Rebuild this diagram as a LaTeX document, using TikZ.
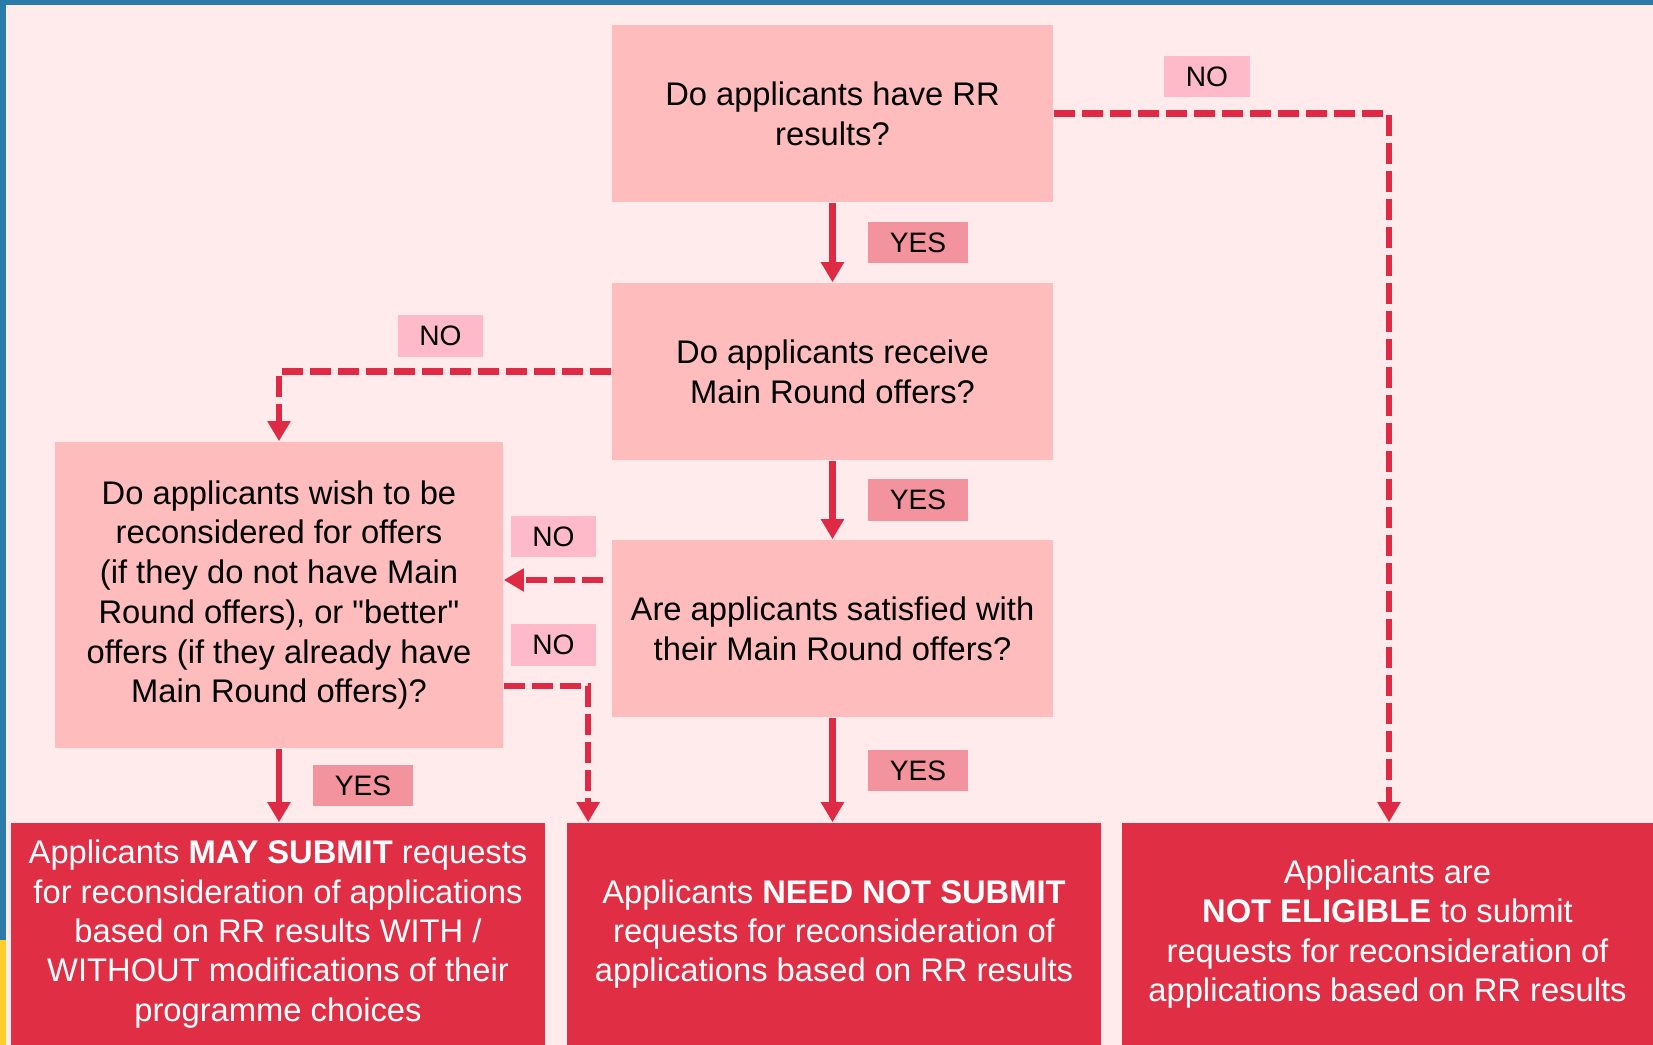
\documentclass[tikz,border=0pt]{standalone}
\usepackage{fontspec}
\setmainfont{Liberation Sans}
\usetikzlibrary{arrows.meta}
\definecolor{bgpink}{HTML}{FFEBEB}
\definecolor{boxpink}{HTML}{FFBCBC}
\definecolor{nopink}{HTML}{FFBACA}
\definecolor{yespink}{HTML}{F2939D}
\definecolor{outred}{HTML}{E02E45}
\definecolor{linered}{HTML}{DE2A44}
\definecolor{frameblue}{HTML}{2A7BAA}
\definecolor{frameyellow}{HTML}{FFCC2A}
\tikzset{
    question/.style = {rectangle, fill = boxpink, inner sep = 0pt, align = center, minimum width = 4.41cm, minimum height = 1.77cm, font = \fontsize{9.3}{11.3}\selectfont},
    outcome/.style = {rectangle, fill = outred, text = white, inner sep = 0pt, align = center, minimum height = 2.22cm, font = \fontsize{9.3}{11.2}\selectfont},
    nobox/.style = {rectangle, fill = nopink, inner sep = 0pt, minimum width = 0.85cm, minimum height = 0.41cm, font = \fontsize{8}{9}\selectfont},
    yesbox/.style = {rectangle, fill = yespink, inner sep = 0pt, minimum width = 0.99cm, minimum height = 0.41cm, font = \fontsize{8}{9}\selectfont},
    flow/.style = {line width = 0.065cm, color = linered, -{Triangle[width = 0.22cm, length = 0.2cm]}},
    dashflow/.style = {flow, dash pattern = on 0.21cm off 0.07cm}
}
\begin{document}
\begin{tikzpicture}[x = 0.01cm, y = -0.01cm]
    \useasboundingbox (0, 0) rectangle (1653, 1045);
    \fill [bgpink] (0, 0) rectangle (1653, 1045);
    \fill [frameblue] (0, 0) rectangle (1653, 5);
    \fill [frameblue] (0, 0) rectangle (6, 940);
    \fill [frameyellow] (0, 940) rectangle (6, 1045);
    \node [question] (q1) at (832.5, 113.5) {Do applicants have RR\\results?};
    \node [question] (q2) at (832.5, 371.5) {Do applicants receive\\Main Round offers?};
    \node [question] (q3) at (832.5, 628.5) {Are applicants satisfied with\\their Main Round offers?};
    \node [question, minimum width = 4.48cm, minimum height = 3.06cm] (q4) at (279, 595) {Do applicants wish to be\\reconsidered for offers\\(if they do not have Main\\Round offers), or \textquotedbl better\textquotedbl\\offers (if they already have\\Main Round offers)?};
    \node [outcome, minimum width = 5.34cm] (r1) at (278, 934) {Applicants \textbf{MAY SUBMIT} requests\\for reconsideration of applications\\based on RR results WITH /\\WITHOUT modifications of their\\programme choices};
    \node [outcome, minimum width = 5.34cm] (r2) at (834, 934) {Applicants \textbf{NEED NOT SUBMIT}\\requests for reconsideration of\\applications based on RR results};
    \node [outcome, minimum width = 5.31cm] (r3) at (1387.5, 934) {Applicants are\\\textbf{NOT ELIGIBLE} to submit\\requests for reconsideration of\\applications based on RR results};
    \node [nobox] (no1) at (1207, 76.5) {NO};
    \node [yesbox] (yes1) at (918, 242.5) {YES};
    \node [nobox] (no2) at (440.5, 336) {NO};
    \node [yesbox] (yes2) at (918, 500) {YES};
    \node [nobox] (no3) at (553.5, 536.5) {NO};
    \node [nobox] (no4) at (553.5, 645) {NO};
    \node [yesbox] (yes3) at (918, 770.5) {YES};
    \node [yesbox] (yes4) at (363, 785.5) {YES};
    \coordinate (n3) at ([yshift = 0.485cm, xshift = -0.08cm]q3.west);
    \coordinate (n4) at ([yshift = -0.91cm]q4.east);
    \draw [flow] (q1) -- (q2);
    \draw [flow] (q2) -- (q3);
    \draw [flow] (q3.south) -- (q3.south |- r2.north);
    \draw [flow] (q4.south) -- (q4.south |- r1.north);
    \draw [dashflow] (q1.east) -| ([xshift = 0.015cm]r3.north);
    \draw [dashflow] (q2.west) -| (q4.north);
    \draw [dashflow] (n3) -- (n3 -| q4.east);
    \draw [dashflow] (n4) -| ([xshift = 0.22cm]r2.north west);
\end{tikzpicture}
\end{document}
